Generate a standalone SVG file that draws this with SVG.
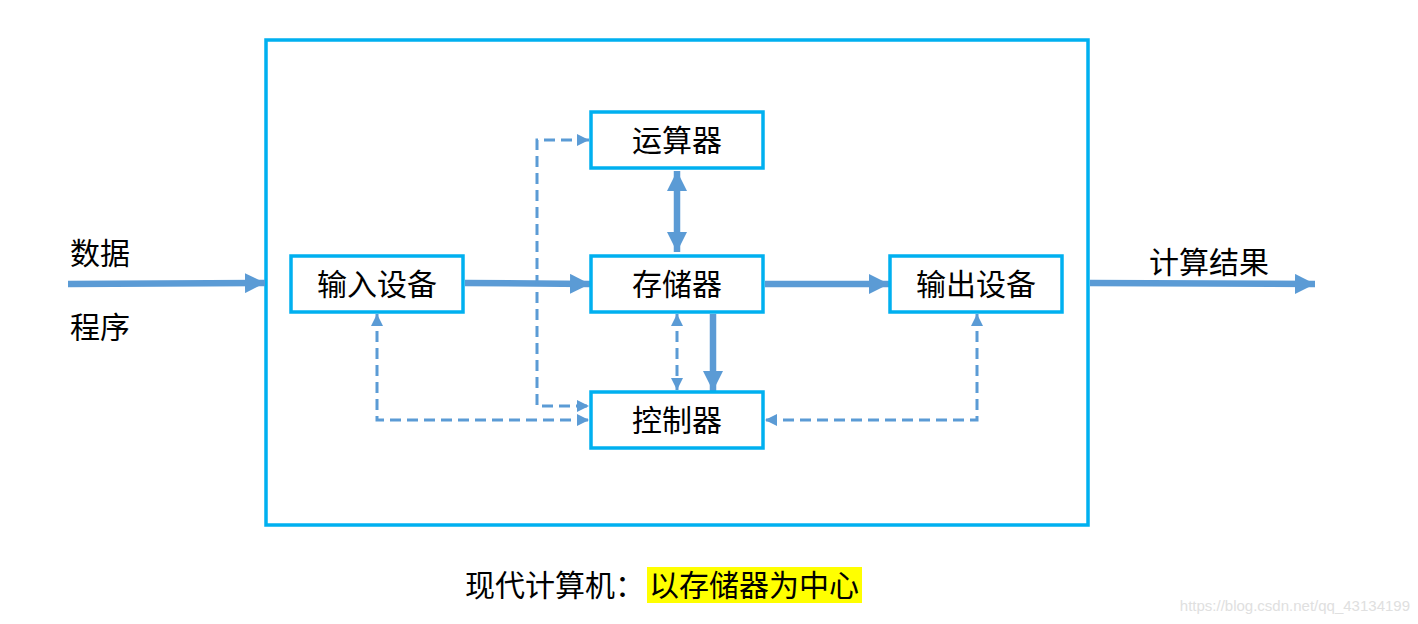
<svg xmlns="http://www.w3.org/2000/svg" width="1418" height="624" viewBox="0 0 1418 624">
<style>
.box{fill:#fff;stroke:#00B0F0;stroke-width:3.5}
.lbl{font-family:"Noto Sans CJK SC",sans-serif;font-size:30px;fill:#000;text-anchor:middle}
.txt{font-family:"Noto Sans CJK SC",sans-serif;font-size:30px;fill:#000}
.thick{stroke:#5B9BD5;stroke-width:6.5;fill:none}
.dash{stroke:#5B9BD5;stroke-width:3;fill:none;stroke-dasharray:11 6}
</style>
<defs>
<marker id="big" markerUnits="userSpaceOnUse" markerWidth="22" markerHeight="20" refX="20" refY="10" orient="auto-start-reverse">
<path d="M0,0 L20,10 L0,20 Z" fill="#5B9BD5"/>
</marker>
<marker id="small" markerUnits="userSpaceOnUse" markerWidth="13" markerHeight="12" refX="12" refY="6" orient="auto-start-reverse">
<path d="M0,0 L12,6 L0,12 Z" fill="#5B9BD5"/>
</marker>
</defs>
<rect x="0" y="0" width="1418" height="624" fill="#fff"/>
<rect id="frame" x="266" y="40" width="822" height="485" fill="none" stroke="#00B0F0" stroke-width="3.5"/>
<g id="connectors">
<line class="thick" x1="68" y1="284" x2="265" y2="283" marker-end="url(#big)"/>
<line class="thick" x1="465" y1="283" x2="590" y2="284" marker-end="url(#big)"/>
<line class="thick" x1="765" y1="284" x2="889" y2="284" marker-end="url(#big)"/>
<line class="thick" x1="1090" y1="283" x2="1315" y2="284" marker-end="url(#big)"/>
<line class="thick" x1="677" y1="171" x2="677" y2="252" marker-start="url(#big)" marker-end="url(#big)"/>
<line class="thick" x1="713" y1="314" x2="713" y2="391" marker-end="url(#big)"/>
<line class="dash" x1="677" y1="314" x2="677" y2="390" marker-start="url(#small)" marker-end="url(#small)"/>
<polyline class="dash" points="589,140 537,140 537,406 589,406" marker-start="url(#small)" marker-end="url(#small)"/>
<polyline class="dash" points="377,314 377,420 589,420" marker-start="url(#small)" marker-end="url(#small)"/>
<polyline class="dash" points="977,314 977,420 765,420" marker-start="url(#small)" marker-end="url(#small)"/>
</g>
<g id="alu"><rect class="box" x="591" y="112" width="172" height="56"/><text class="lbl" x="677" y="151">运算器</text></g>
<g id="memory"><rect class="box" x="591" y="256" width="172" height="56"/><text class="lbl" x="677" y="295">存储器</text></g>
<g id="controller"><rect class="box" x="591" y="392" width="172" height="56"/><text class="lbl" x="677" y="431">控制器</text></g>
<g id="input"><rect class="box" x="291" y="256" width="172" height="56"/><text class="lbl" x="377" y="295">输入设备</text></g>
<g id="output"><rect class="box" x="890" y="256" width="172" height="56"/><text class="lbl" x="976" y="295">输出设备</text></g>
<g id="labels">
<text class="txt" x="70" y="264">数据</text>
<text class="txt" x="70" y="338">程序</text>
<text class="txt" x="1149" y="273">计算结果</text>
<rect x="647" y="567" width="215" height="36" fill="#FFFF00"/>
<text class="txt" x="465" y="596">现代计算机：</text>
<text class="txt" x="649" y="596">以存储器为中心</text>
<text x="1410" y="611" text-anchor="end" font-family="Liberation Sans,sans-serif" font-size="15" fill="#e0e0e0">https://blog.csdn.net/qq_43134199</text>
</g>
</svg>
